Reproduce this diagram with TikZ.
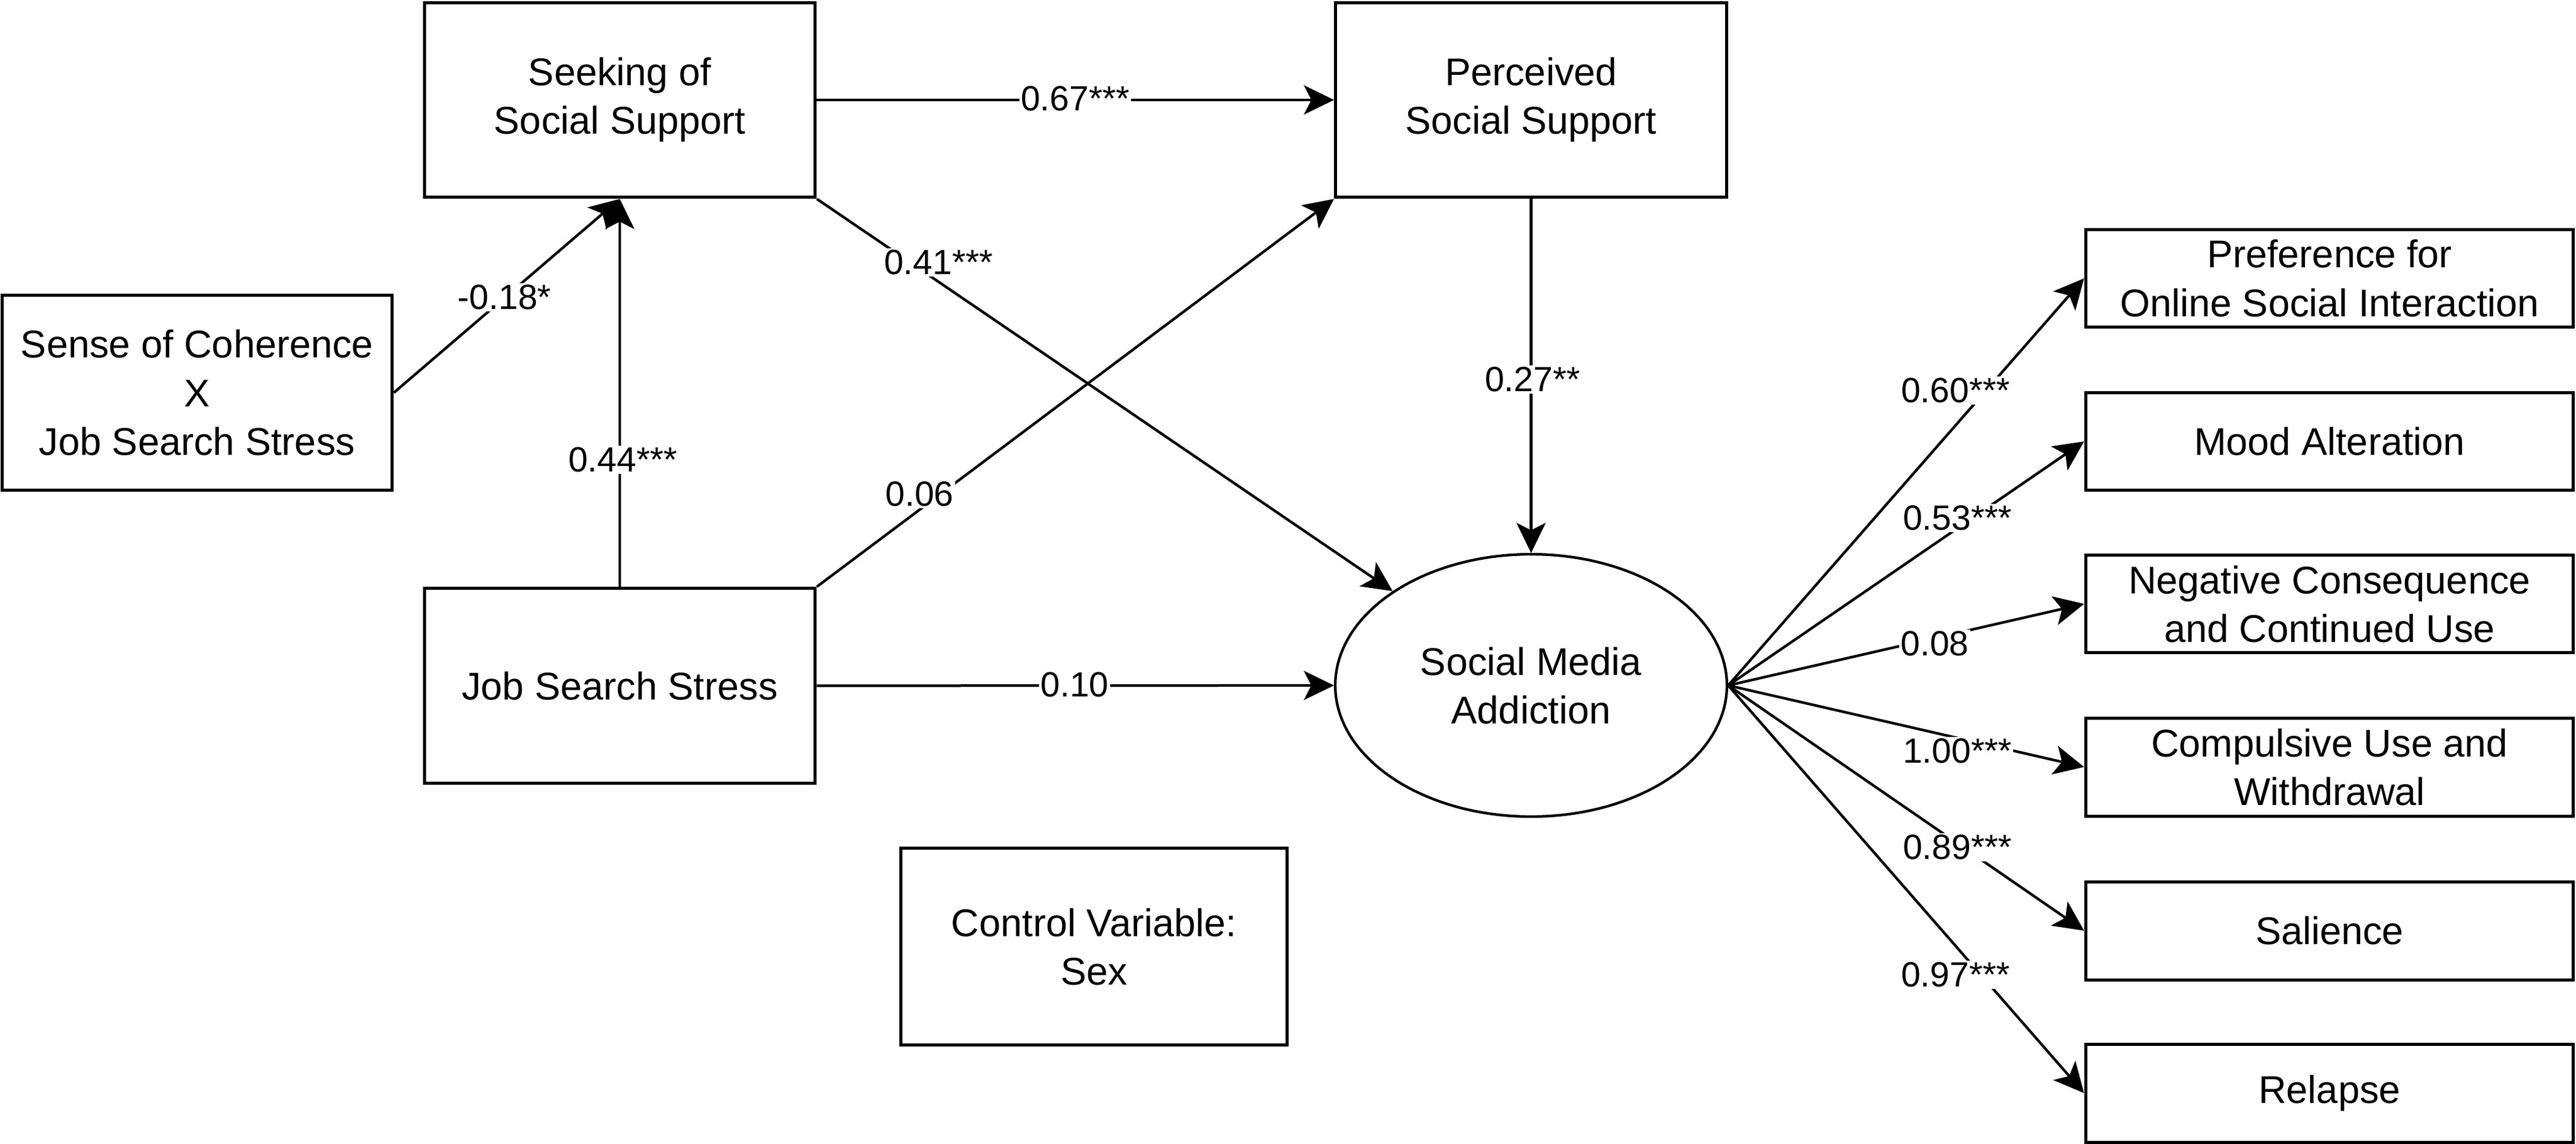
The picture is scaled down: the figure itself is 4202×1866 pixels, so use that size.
\documentclass[tikz,border=0pt]{standalone}
\usepackage{fontspec}
\setmainfont{Liberation Sans}
\usetikzlibrary{arrows.meta,shapes.geometric}
\begin{document}
\begin{tikzpicture}[x=0.02cm,y=-0.02cm,
  txt/.style={align=center, inner sep=0pt, font=\fontsize{35.9}{45}\selectfont},
  box/.style={txt, draw, line width=0.1cm, minimum width=12.76cm, minimum height=6.36cm},
  ind/.style={txt, draw, line width=0.1cm, minimum width=15.92cm, minimum height=3.2cm},
  lat/.style={txt, draw, ellipse, line width=0.085cm, minimum width=12.78cm, minimum height=8.56cm},
  edge/.style={line width=0.085cm, -{Stealth[length=0.98cm, width=0.95cm, inset=0.24cm]}},
  lbl/.style={fill=white, inner sep=0.05cm, font=\fontsize{32.5}{38}\selectfont}]
\useasboundingbox (0,0) rectangle (4202,1866);

% nodes
\node[box] (seek) at (1011,163) {Seeking of\\Social Support};
\node[box] (perc) at (2497.5,163) {Perceived\\Social Support};
\node[box, minimum width=12.74cm, minimum height=6.38cm] (soc) at (321.5,640.5) {Sense of Coherence\\X\\Job Search Stress};
\node[box] (jss) at (1011,1118.5) {Job Search Stress};
\node[box, minimum width=12.62cm, minimum height=6.44cm] (ctrl) at (1784.5,1544) {Control Variable:\\Sex};
\node[lat] (sma) at (2497.5,1118) {Social Media\\Addiction};

\node[ind] (pref) at (3800,454) {Preference for\\Online Social Interaction};
\node[ind] (mood) at (3800,720) {Mood Alteration};
\node[ind] (neg)  at (3800,985) {Negative Consequence\\and Continued Use};
\node[ind] (comp) at (3800,1251) {Compulsive Use and\\Withdrawal};
\node[ind] (sal)  at (3800,1518) {Salience};
\node[ind] (rel)  at (3800,1783) {Relapse};

% structural paths
\draw[edge] (seek.east) -- (perc.west);
\draw[edge] (soc.east) -- (seek.south);
\draw[edge] (jss.north) -- (seek.south);
\draw[edge] (seek.south east) -- (sma);
\draw[edge] (jss.north east) -- (perc.south west);
\draw[edge] (perc.south) -- (sma.north);
\draw[edge] (jss.east) -- (sma.west);

% measurement paths
\draw[edge] (sma.east) -- (pref.west);
\draw[edge] (sma.east) -- (mood.west);
\draw[edge] (sma.east) -- (neg.west);
\draw[edge] (sma.east) -- (comp.west);
\draw[edge] (sma.east) -- (sal.west);
\draw[edge] (sma.east) -- (rel.west);

% labels
\node[lbl] (l067) at (1754,161) {0.67***};
\node[lbl] (l018) at (823,485) {-0.18*};
\node[lbl] (l044) at (1016,750) {0.44***};
\node[lbl] (l041) at (1531,428) {0.41***};
\node[lbl] (l006) at (1500,806) {0.06};
\node[lbl] (l027) at (2500,619) {0.27**};
\node[lbl] (l010) at (1753,1117) {0.10};
\node[lbl] (l060) at (3190,637) {0.60***};
\node[lbl] (l053) at (3193,845) {0.53***};
\node[lbl] (l008) at (3156,1050) {0.08};
\node[lbl] (l100) at (3193,1225) {1.00***};
\node[lbl] (l089) at (3193,1382) {0.89***};
\node[lbl] (l097) at (3190,1590) {0.97***};
\end{tikzpicture}
\end{document}
